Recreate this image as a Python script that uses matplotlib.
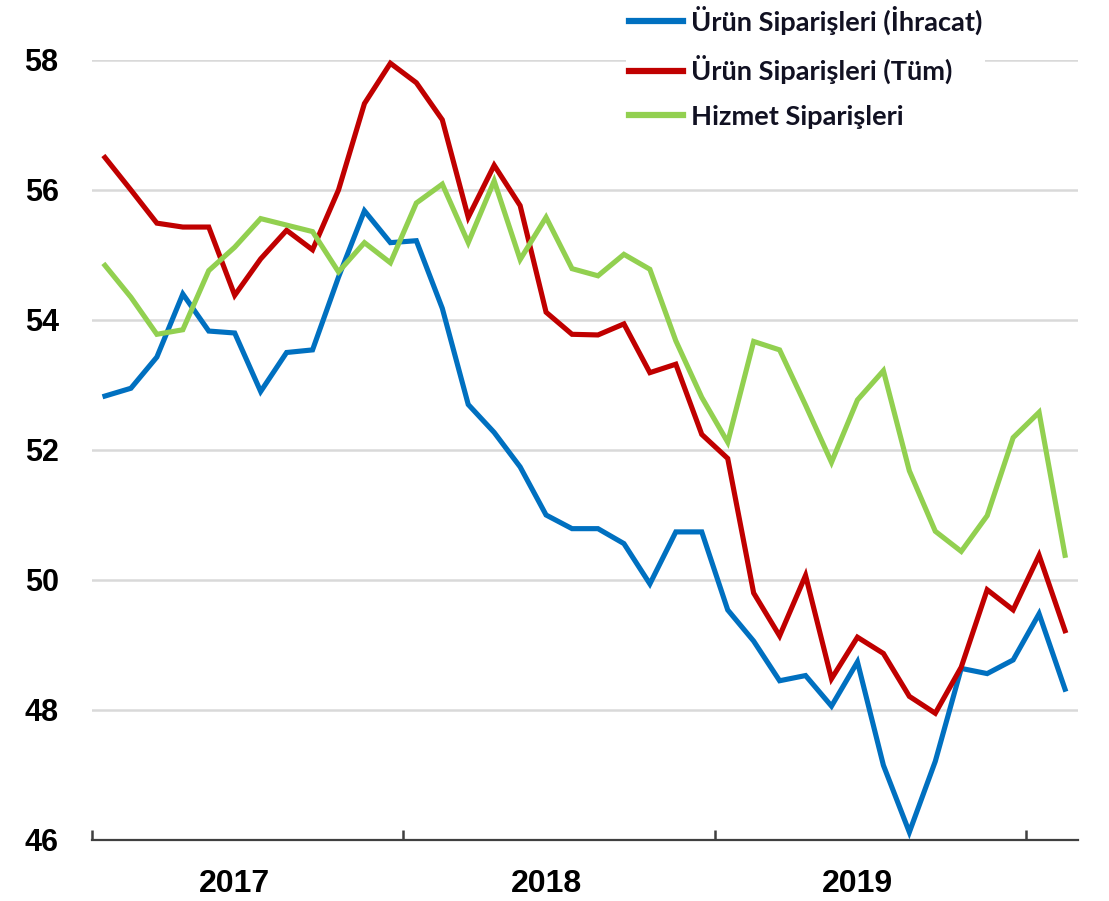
import matplotlib
matplotlib.use("Agg")
import matplotlib.pyplot as plt
import numpy as np

months = list(range(38))  # Jan 2017 .. Feb 2020
ihracat = [52.83, 52.95, 53.43, 54.4, 53.83, 53.8, 52.9, 53.5, 53.54, 54.66,
           55.68, 55.19, 55.22, 54.18, 52.7, 52.27, 51.74, 51.0, 50.79, 50.79,
           50.56, 49.94, 50.74, 50.74, 49.54, 49.06, 48.45, 48.53, 48.06, 48.74,
           47.15, 46.12, 47.21, 48.64, 48.56, 48.77, 49.48, 48.32]
tum = [56.5, 56.0, 55.49, 55.43, 55.43, 54.38, 54.94, 55.38, 55.08, 56.0,
       57.33, 57.95, 57.65, 57.08, 55.58, 56.38, 55.76, 54.12, 53.78, 53.77,
       53.94, 53.19, 53.32, 52.24, 51.87, 49.8, 49.14, 50.07, 48.48, 49.12,
       48.87, 48.21, 47.95, 48.66, 49.85, 49.54, 50.38, 49.22]
hizmet = [54.84, 54.35, 53.78, 53.85, 54.76, 55.12, 55.56, 55.46, 55.36, 54.74,
          55.19, 54.88, 55.8, 56.09, 55.19, 56.14, 54.93, 55.58, 54.79, 54.68,
          55.01, 54.78, 53.68, 52.81, 52.12, 53.67, 53.54, 52.69, 51.81, 52.77,
          53.22, 51.68, 50.75, 50.44, 50.99, 52.19, 52.58, 50.38]
series_names = ["Ürün Siparişleri (İhracat)", "Ürün Siparişleri (Tüm)", "Hizmet Siparişleri"]
colors = ["#0070C0", "#C00000", "#92D050"]
year_labels = ["2017", "2018", "2019"]
year_label_pos = [5, 17, 29]
year_ticks = [-0.5, 11.5, 23.5, 35.5]
yticks = [46, 48, 50, 52, 54, 56, 58]

num_font = ["Liberation Sans", "DejaVu Sans"]
leg_font = ["Lato", "DejaVu Sans"]

fig = plt.figure(figsize=(11.09, 9.01), dpi=100)
ax = fig.add_axes([92/1109, 1 - 840/901, (1078-92)/1109, 780/901])

for vals, name, c in zip([ihracat, tum, hizmet], series_names, colors):
    ax.plot(months, vals, color=c, lw=3.7, label=name, clip_on=False,
            solid_joinstyle="miter", zorder=3)

ax.set_xlim(-0.5, 37.5)
ax.set_ylim(46, 58)
ax.set_yticks(yticks)
ax.yaxis.grid(True, color="#D9D9D9", lw=1.8, zorder=0)
ax.set_axisbelow(True)
for s in ["top", "right", "left"]:
    ax.spines[s].set_visible(False)
ax.spines["bottom"].set_color("#404040")
ax.spines["bottom"].set_linewidth(1.6)

ax.set_xticks(year_ticks)
ax.set_xticklabels([])
ax.tick_params(axis="x", direction="in", length=7, width=1.8, color="#404040")
ax.tick_params(axis="y", length=0, pad=24)
for lab in ax.get_yticklabels():
    lab.set_fontfamily(num_font)
    lab.set_fontweight("bold")
    lab.set_fontsize(22)
    lab.set_color("#000000")

ax.set_xticks(year_label_pos, minor=True)
ax.set_xticklabels(year_labels, minor=True)
ax.tick_params(axis="x", which="minor", length=0, pad=21)
for lab in ax.get_xticklabels(minor=True):
    lab.set_fontfamily(num_font)
    lab.set_fontweight("bold")
    lab.set_fontsize(23)

leg = ax.legend(loc="upper left", bbox_to_anchor=(626/1109, 1 - 3/901),
                bbox_transform=fig.transFigure, frameon=True, borderpad=0.1,
                borderaxespad=0, handlelength=2.0, handletextpad=0.3,
                labelspacing=0.74, prop={"family": leg_font, "weight": "bold", "size": 19.6})
leg.get_frame().set_facecolor("white")
leg.get_frame().set_edgecolor("none")
leg.get_frame().set_alpha(1)
for t in leg.get_texts():
    t.set_color("#111122")
for h in leg.get_lines():
    h.set_linewidth(4.5)

fig.savefig("out.png", dpi=100)
